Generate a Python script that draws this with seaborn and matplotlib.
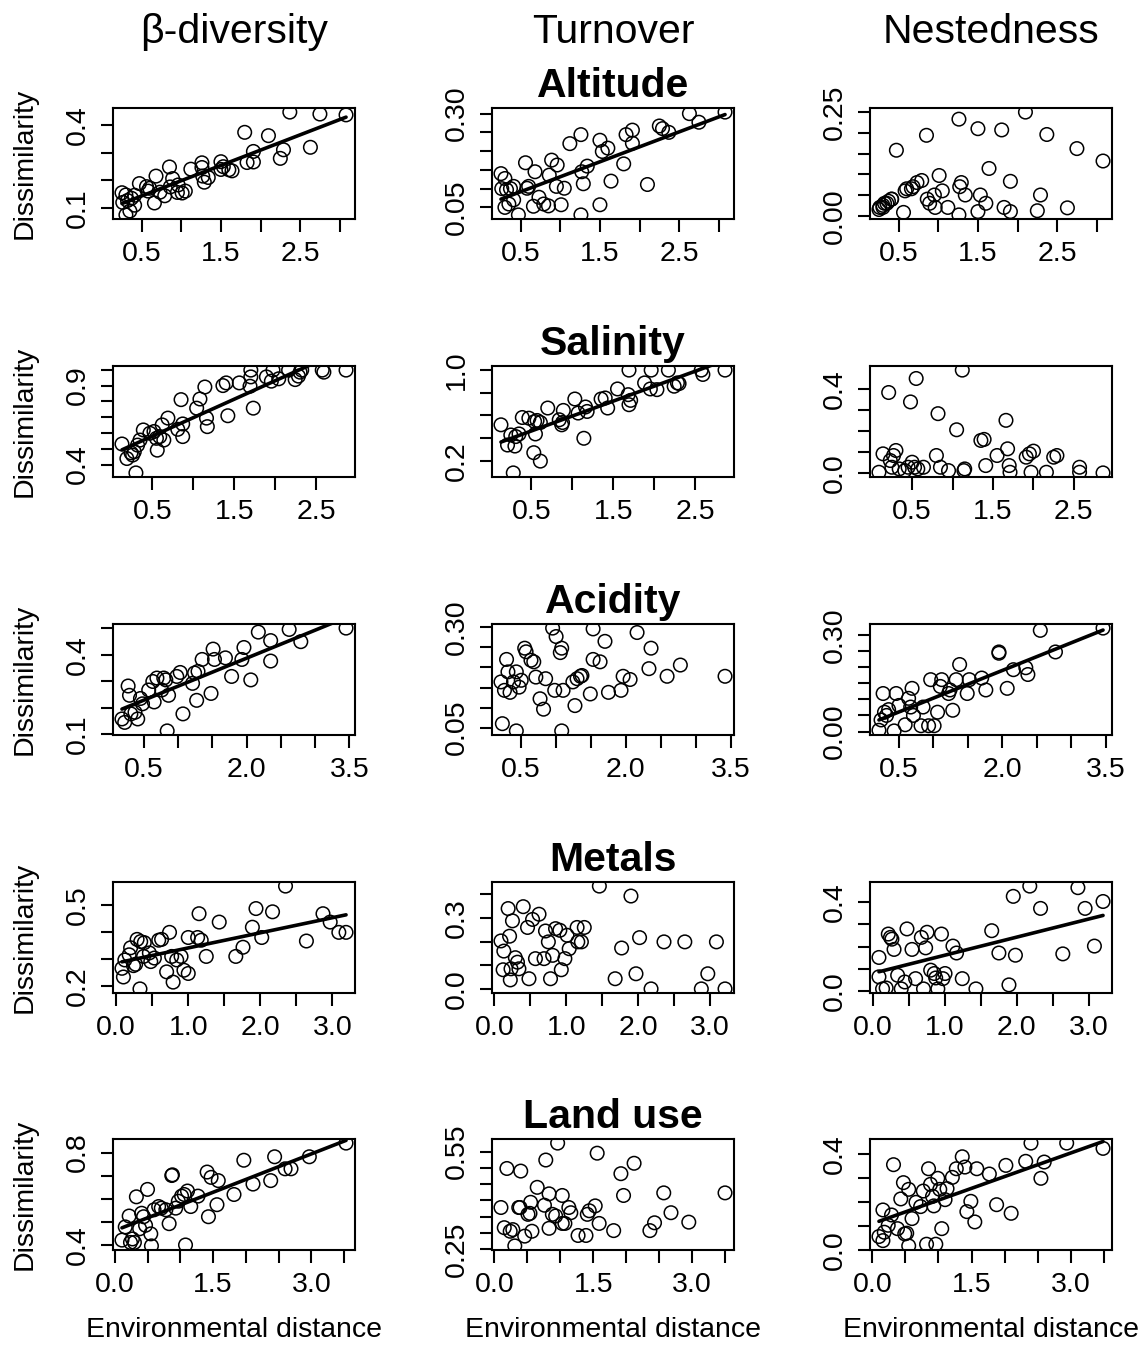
import matplotlib
matplotlib.use("Agg")
import matplotlib.pyplot as plt
import numpy as np
import seaborn as sns

# ---- Altitude (same distances for the three indices) ----
alt_x = [0.25, 0.30, 0.26, 0.32, 0.37, 0.41, 0.30, 0.35, 0.41, 0.47, 0.56, 0.58, 0.60, 0.68, 0.66, 0.73,
         0.79, 0.85, 0.86, 0.89, 0.96, 0.95, 1.05, 1.01, 1.12, 1.26, 1.27, 1.29, 1.34, 1.26, 1.50, 1.53,
         1.60, 1.50, 1.64, 1.80, 1.83, 1.91, 1.91, 2.10, 2.25, 2.29, 2.37, 2.63, 2.75, 3.08]
alt_beta = [0.155, 0.147, 0.120, 0.127, 0.135, 0.146, 0.075, 0.089, 0.110, 0.188, 0.177, 0.161, 0.171,
            0.215, 0.118, 0.157, 0.144, 0.248, 0.176, 0.206, 0.183, 0.156, 0.161, 0.154, 0.240, 0.246,
            0.215, 0.193, 0.210, 0.263, 0.239, 0.249, 0.238, 0.267, 0.234, 0.373, 0.264, 0.266, 0.304,
            0.361, 0.279, 0.310, 0.446, 0.319, 0.439, 0.436]
alt_turn = [0.140, 0.127, 0.100, 0.097, 0.100, 0.106, 0.050, 0.059, 0.070, 0.030, 0.169, 0.101, 0.106,
            0.145, 0.053, 0.077, 0.059, 0.054, 0.136, 0.176, 0.163, 0.106, 0.101, 0.057, 0.220, 0.244,
            0.145, 0.113, 0.160, 0.030, 0.229, 0.199, 0.208, 0.057, 0.120, 0.166, 0.244, 0.256, 0.221,
            0.111, 0.267, 0.260, 0.250, 0.300, 0.277, 0.304]
alt_nest = [0.015, 0.020, 0.020, 0.030, 0.035, 0.040, 0.025, 0.030, 0.040, 0.158, 0.008, 0.060, 0.065,
            0.070, 0.065, 0.080, 0.085, 0.194, 0.040, 0.030, 0.020, 0.050, 0.060, 0.097, 0.020, 0.002,
            0.070, 0.080, 0.050, 0.233, 0.010, 0.050, 0.030, 0.210, 0.114, 0.207, 0.020, 0.010, 0.083,
            0.250, 0.012, 0.050, 0.196, 0.019, 0.162, 0.132]

# ---- Salinity ----
sal_beta_x = [0.13, 0.19, 0.24, 0.26, 0.28, 0.30, 0.32, 0.35, 0.39, 0.47, 0.52, 0.55, 0.56, 0.59, 0.62,
              0.64, 0.69, 0.81, 0.85, 0.87, 0.87, 1.04, 1.08, 1.14, 1.16, 1.17, 1.36, 1.40, 1.42, 1.56,
              1.69, 1.70, 1.70, 1.73, 1.89, 1.95, 1.97, 2.04, 2.16, 2.24, 2.28, 2.30, 2.32, 2.57, 2.59, 2.86]
sal_beta = [0.530, 0.438, 0.474, 0.460, 0.481, 0.347, 0.523, 0.555, 0.619, 0.598, 0.609, 0.566, 0.491,
            0.577, 0.651, 0.555, 0.694, 0.623, 0.811, 0.577, 0.657, 0.757, 0.815, 0.891, 0.694, 0.640,
            0.900, 0.917, 0.709, 0.917, 0.896, 0.955, 0.998, 0.757, 0.955, 0.928, 0.998, 0.943, 0.998,
            0.938, 0.960, 0.985, 0.998, 0.998, 0.985, 0.998]
sal_turn_x = [0.13, 0.21, 0.25, 0.28, 0.31, 0.35, 0.30, 0.39, 0.47, 0.54, 0.57, 0.61, 0.55, 0.53, 0.61,
              0.70, 0.84, 0.87, 0.88, 0.89, 1.03, 1.07, 1.14, 1.16, 1.18, 1.35, 1.40, 1.43, 1.55, 1.68,
              1.69, 1.71, 1.69, 1.88, 1.96, 1.95, 2.03, 2.17, 2.24, 2.28, 2.30, 2.57, 2.59, 2.86]
sal_turn = [0.518, 0.341, 0.429, 0.097, 0.415, 0.438, 0.332, 0.582, 0.576, 0.547, 0.556, 0.538, 0.438,
            0.274, 0.200, 0.665, 0.562, 0.518, 0.538, 0.644, 0.744, 0.621, 0.400, 0.674, 0.635, 0.744,
            0.753, 0.665, 0.832, 0.782, 0.997, 0.732, 0.694, 0.885, 0.997, 0.832, 0.826, 0.997, 0.856,
            0.885, 0.879, 0.997, 0.959, 0.997]
sal_nest_x = [0.09, 0.14, 0.21, 0.23, 0.27, 0.30, 0.25, 0.34, 0.41, 0.45, 0.48, 0.50, 0.53, 0.55, 0.57,
              0.64, 0.80, 0.82, 0.85, 0.95, 1.05, 1.12, 1.14, 1.15, 1.35, 1.39, 1.41, 1.55, 1.66, 1.68,
              1.70, 1.71, 1.91, 1.95, 2.00, 1.97, 2.16, 2.25, 2.29, 2.57, 2.57, 2.86]
sal_nest = [0.003, 0.091, 0.384, 0.059, 0.083, 0.107, 0.027, 0.019, 0.011, 0.027, 0.339, 0.051, 0.027,
            0.451, 0.019, 0.027, 0.083, 0.283, 0.027, 0.011, 0.206, 0.491, 0.011, 0.019, 0.155, 0.160,
            0.035, 0.083, 0.251, 0.115, 0.035, 0.003, 0.075, 0.091, 0.104, 0.003, 0.003, 0.075, 0.083,
            0.027, 0.003, 0.000]

# ---- Acidity ----
acid_beta_x = [0.18, 0.22, 0.27, 0.29, 0.31, 0.37, 0.41, 0.45, 0.48, 0.57, 0.63, 0.65, 0.69, 0.76, 0.79,
               0.82, 0.86, 0.98, 1.03, 1.07, 1.21, 1.24, 1.29, 1.27, 1.35, 1.48, 1.51, 1.53, 1.78, 1.69,
               1.96, 1.93, 2.06, 2.17, 2.35, 2.35, 2.62, 2.79, 3.45, 0.84]
acid_beta = [0.158, 0.145, 0.282, 0.247, 0.177, 0.183, 0.158, 0.235, 0.215, 0.267, 0.299, 0.222, 0.312,
             0.267, 0.312, 0.305, 0.247, 0.318, 0.333, 0.177, 0.292, 0.331, 0.337, 0.228, 0.382, 0.254,
             0.421, 0.382, 0.318, 0.388, 0.427, 0.382, 0.305, 0.485, 0.376, 0.453, 0.495, 0.449, 0.500,
             0.113]
acid_turn_x = [0.21, 0.26, 0.29, 0.31, 0.34, 0.39, 0.43, 0.47, 0.50, 0.55, 0.57, 0.64, 0.68, 0.71, 0.77,
               0.82, 0.85, 0.95, 0.98, 1.00, 1.06, 1.08, 1.10, 1.24, 1.27, 1.30, 1.35, 1.37, 1.49, 1.53,
               1.53, 1.63, 1.70, 1.75, 1.93, 1.96, 2.06, 2.16, 2.33, 2.36, 2.59, 2.78, 3.42, 0.23, 0.43, 1.08]
acid_turn = [0.164, 0.143, 0.220, 0.189, 0.138, 0.164, 0.189, 0.151, 0.168, 0.248, 0.239, 0.218, 0.214,
             0.176, 0.122, 0.096, 0.172, 0.298, 0.143, 0.277, 0.237, 0.248, 0.143, 0.164, 0.105, 0.172,
             0.178, 0.180, 0.134, 0.220, 0.296, 0.214, 0.265, 0.138, 0.143, 0.178, 0.170, 0.287, 0.197,
             0.248, 0.178, 0.206, 0.178, 0.060, 0.042, 0.042]
acid_nest_x = [0.21, 0.27, 0.29, 0.32, 0.35, 0.43, 0.46, 0.50, 0.59, 0.64, 0.67, 0.69, 0.71, 0.82, 0.85,
               0.93, 0.96, 1.01, 1.06, 1.10, 1.12, 1.22, 1.24, 1.28, 1.33, 1.38, 1.49, 1.52, 1.70, 1.76,
               1.95, 1.95, 2.07, 2.16, 2.34, 2.37, 2.55, 2.77, 3.46, 0.24]
acid_nest = [0.004, 0.118, 0.060, 0.050, 0.068, 0.002, 0.118, 0.081, 0.021, 0.103, 0.076, 0.134, 0.050,
             0.018, 0.076, 0.018, 0.161, 0.018, 0.060, 0.140, 0.161, 0.118, 0.129, 0.066, 0.161, 0.208,
             0.118, 0.161, 0.166, 0.129, 0.243, 0.247, 0.134, 0.192, 0.198, 0.177, 0.314, 0.247, 0.321,
             0.036]

# ---- Metals ----
met_beta_x = [0.08, 0.10, 0.12, 0.18, 0.20, 0.24, 0.27, 0.29, 0.34, 0.38, 0.39, 0.46, 0.48, 0.53, 0.59,
              0.63, 0.70, 0.74, 0.77, 0.79, 0.84, 0.90, 0.94, 1.00, 1.00, 1.13, 1.15, 1.18, 1.25, 1.43,
              1.66, 1.76, 1.89, 1.94, 2.02, 2.17, 2.64, 2.87, 2.97, 3.09, 3.19, 0.33, 2.35]
met_beta = [0.266, 0.234, 0.297, 0.316, 0.342, 0.276, 0.281, 0.373, 0.365, 0.310, 0.361, 0.323, 0.291,
            0.304, 0.370, 0.373, 0.253, 0.399, 0.310, 0.215, 0.297, 0.310, 0.259, 0.247, 0.380, 0.380,
            0.468, 0.370, 0.310, 0.437, 0.310, 0.344, 0.418, 0.487, 0.380, 0.475, 0.367, 0.468, 0.437,
            0.399, 0.399, 0.190, 0.570]
met_turn_x = [0.09, 0.13, 0.12, 0.19, 0.21, 0.25, 0.22, 0.23, 0.29, 0.32, 0.34, 0.40, 0.46, 0.48, 0.53,
              0.62, 0.57, 0.69, 0.71, 0.75, 0.78, 0.81, 0.85, 0.91, 0.93, 0.98, 1.01, 1.04, 1.15, 1.16,
              1.21, 1.25, 1.46, 1.68, 1.77, 1.90, 1.97, 2.02, 2.18, 2.36, 2.65, 2.88, 2.97, 3.09, 3.21]
met_turn = [0.203, 0.160, 0.081, 0.340, 0.223, 0.288, 0.038, 0.085, 0.132, 0.113, 0.085, 0.348, 0.260,
            0.043, 0.294, 0.316, 0.128, 0.128, 0.245, 0.199, 0.043, 0.142, 0.255, 0.248, 0.081, 0.128,
            0.227, 0.170, 0.260, 0.199, 0.199, 0.260, 0.435, 0.043, 0.173, 0.393, 0.064, 0.217, 0.000,
            0.199, 0.199, 0.000, 0.064, 0.199, 0.000]
met_nest_x = [0.08, 0.08, 0.13, 0.18, 0.21, 0.24, 0.26, 0.29, 0.34, 0.39, 0.44, 0.47, 0.54, 0.59, 0.67,
              0.70, 0.73, 0.75, 0.80, 0.85, 0.87, 0.90, 0.95, 0.97, 1.00, 1.11, 1.16, 1.24, 1.43, 1.65,
              1.75, 1.89, 1.95, 1.98, 2.18, 2.33, 2.64, 2.85, 2.95, 3.08, 3.20]
met_nest = [0.065, 0.152, 0.011, 0.015, 0.257, 0.242, 0.234, 0.188, 0.072, 0.011, 0.042, 0.280, 0.188,
            0.057, 0.242, 0.011, 0.195, 0.265, 0.095, 0.080, 0.060, 0.011, 0.257, 0.057, 0.080, 0.203,
            0.172, 0.057, 0.011, 0.272, 0.172, 0.029, 0.426, 0.162, 0.472, 0.372, 0.168, 0.465, 0.372,
            0.203, 0.403]

# ---- Land use ----
land_beta_x = [0.11, 0.16, 0.22, 0.24, 0.27, 0.30, 0.33, 0.38, 0.41, 0.44, 0.47, 0.50, 0.55, 0.56, 0.60,
               0.67, 0.71, 0.78, 0.83, 0.87, 0.88, 0.93, 0.97, 1.02, 1.06, 1.11, 1.16, 1.08, 1.27, 1.41,
               1.43, 1.47, 1.56, 1.58, 1.82, 1.97, 2.11, 2.38, 2.44, 2.60, 2.69, 2.97, 3.53]
land_beta = [0.422, 0.479, 0.526, 0.412, 0.427, 0.412, 0.609, 0.471, 0.538, 0.523, 0.486, 0.641, 0.449,
             0.397, 0.553, 0.567, 0.560, 0.553, 0.493, 0.701, 0.704, 0.560, 0.590, 0.612, 0.619, 0.634,
             0.567, 0.401, 0.612, 0.716, 0.523, 0.693, 0.575, 0.679, 0.619, 0.767, 0.664, 0.679, 0.782,
             0.730, 0.730, 0.782, 0.841]
land_turn_x = [0.10, 0.15, 0.19, 0.24, 0.28, 0.31, 0.40, 0.37, 0.39, 0.46, 0.51, 0.54, 0.55, 0.57, 0.65,
               0.76, 0.78, 0.83, 0.83, 0.88, 0.93, 0.96, 1.03, 1.03, 1.07, 1.13, 1.16, 1.27, 1.39, 1.41,
               1.44, 1.53, 1.56, 1.59, 1.81, 1.92, 1.96, 2.12, 2.36, 2.43, 2.57, 2.68, 2.95, 3.50]
land_turn = [0.378, 0.316, 0.498, 0.305, 0.310, 0.260, 0.490, 0.378, 0.378, 0.290, 0.357, 0.360, 0.394,
             0.305, 0.440, 0.385, 0.524, 0.420, 0.314, 0.357, 0.352, 0.576, 0.415, 0.329, 0.329, 0.378,
             0.362, 0.292, 0.292, 0.357, 0.368, 0.383, 0.545, 0.329, 0.307, 0.482, 0.415, 0.514, 0.307,
             0.331, 0.423, 0.362, 0.333, 0.423]
land_nest_x = [0.10, 0.16, 0.16, 0.24, 0.29, 0.32, 0.38, 0.43, 0.47, 0.49, 0.52, 0.55, 0.55, 0.60, 0.66,
               0.73, 0.77, 0.82, 0.85, 0.88, 0.91, 0.93, 0.96, 0.99, 1.02, 1.05, 1.10, 1.13, 1.21, 1.27,
               1.36, 1.40, 1.43, 1.49, 1.55, 1.58, 1.77, 1.88, 2.02, 2.10, 2.32, 2.40, 2.55, 2.60, 2.94,
               3.49, 0.18]
land_nest = [0.056, 0.039, 0.167, 0.103, 0.146, 0.356, 0.089, 0.213, 0.281, 0.067, 0.070, 0.253, 0.017,
             0.131, 0.199, 0.181, 0.246, 0.024, 0.339, 0.274, 0.224, 0.184, 0.024, 0.299, 0.253, 0.089,
             0.210, 0.256, 0.303, 0.339, 0.389, 0.346, 0.160, 0.203, 0.117, 0.339, 0.317, 0.189, 0.353,
             0.153, 0.370, 0.446, 0.299, 0.367, 0.446, 0.424, 0.074]

col_names = ["\u03b2-diversity", "Turnover", "Nestedness"]
row_names = ["Altitude", "Salinity", "Acidity", "Metals", "Land use"]

# axis ticks; empty strings are the labels R dropped for overlap
x_ticks = [[0.5, 1.0, 1.5, 2.0, 2.5, 3.0],
           [0.5, 1.0, 1.5, 2.0, 2.5],
           [0.5, 1.0, 1.5, 2.0, 2.5, 3.0, 3.5],
           [0.0, 0.5, 1.0, 1.5, 2.0, 2.5, 3.0],
           [0.0, 0.5, 1.0, 1.5, 2.0, 2.5, 3.0, 3.5]]
x_labels = [["0.5", "", "1.5", "", "2.5", ""],
            ["0.5", "", "1.5", "", "2.5"],
            ["0.5", "", "", "2.0", "", "", "3.5"],
            ["0.0", "", "1.0", "", "2.0", "", "3.0"],
            ["0.0", "", "", "1.5", "", "", "3.0", ""]]

y_ticks = [
    [[0.1, 0.2, 0.3, 0.4], [0.05, 0.10, 0.15, 0.20, 0.25, 0.30], [0.0, 0.05, 0.10, 0.15, 0.20, 0.25]],
    [[0.4, 0.5, 0.6, 0.7, 0.8, 0.9, 1.0], [0.2, 0.4, 0.6, 0.8, 1.0], [0.0, 0.1, 0.2, 0.3, 0.4]],
    [[0.1, 0.2, 0.3, 0.4, 0.5], [0.05, 0.10, 0.15, 0.20, 0.25, 0.30], [0.0, 0.05, 0.10, 0.15, 0.20, 0.25, 0.30]],
    [[0.2, 0.3, 0.4, 0.5], [0.0, 0.1, 0.2, 0.3, 0.4], [0.0, 0.1, 0.2, 0.3, 0.4]],
    [[0.4, 0.5, 0.6, 0.7, 0.8], [0.25, 0.30, 0.35, 0.40, 0.45, 0.50, 0.55], [0.0, 0.1, 0.2, 0.3, 0.4]],
]
y_labels = [
    [["0.1", "", "", "0.4"], ["0.05", "", "", "", "", "0.30"], ["0.00", "", "", "", "", "0.25"]],
    [["0.4", "", "", "", "", "0.9", ""], ["0.2", "", "", "", "1.0"], ["0.0", "", "", "", "0.4"]],
    [["0.1", "", "", "0.4", ""], ["0.05", "", "", "", "", "0.30"], ["0.00", "", "", "", "", "", "0.30"]],
    [["0.2", "", "", "0.5"], ["0.0", "", "", "0.3", ""], ["0.0", "", "", "", "0.4"]],
    [["0.4", "", "", "", "0.8"], ["0.25", "", "", "", "", "", "0.55"], ["0.0", "", "", "", "0.4"]],
]

panels = [
    [(alt_x, alt_beta, True), (alt_x, alt_turn, True), (alt_x, alt_nest, False)],
    [(sal_beta_x, sal_beta, True), (sal_turn_x, sal_turn, True), (sal_nest_x, sal_nest, False)],
    [(acid_beta_x, acid_beta, True), (acid_turn_x, acid_turn, False), (acid_nest_x, acid_nest, True)],
    [(met_beta_x, met_beta, True), (met_turn_x, met_turn, False), (met_nest_x, met_nest, True)],
    [(land_beta_x, land_beta, True), (land_turn_x, land_turn, False), (land_nest_x, land_nest, True)],
]


def r_lim(v):
    # R-style axis range: data range plus 4% each side
    lo, hi = min(v), max(v)
    d = (hi - lo) * 0.04
    return lo - d, hi + d


sns.set_style("ticks")
plt.rcParams["font.family"] = ["Liberation Sans", "DejaVu Sans"]
plt.rcParams["axes.edgecolor"] = "black"
plt.rcParams["xtick.color"] = "black"
plt.rcParams["ytick.color"] = "black"
plt.rcParams["text.color"] = "black"

W, H = 1144, 1351
fig = plt.figure(figsize=(W / 100, H / 100), dpi=100)

col_left = [113, 492, 870]
row_top = [108, 366, 624, 882, 1139]
box_w, box_h = 242, 111

for r in range(5):
    for c in range(3):
        x, y, fit = panels[r][c]
        ax = fig.add_axes([col_left[c] / W, 1 - (row_top[r] + box_h) / H, box_w / W, box_h / H])
        sns.regplot(x=np.array(x), y=np.array(y), ax=ax, fit_reg=fit, ci=None, color="black",
                    scatter_kws=dict(s=95, facecolors="none", edgecolors="black",
                                     linewidths=1.1, alpha=1),
                    line_kws=dict(lw=2.6))
        ax.set_xlabel("")
        ax.set_ylabel("")
        ax.set_xlim(r_lim(x))
        ax.set_ylim(r_lim(y))
        ax.set_xticks(x_ticks[r], x_labels[r])
        ax.set_yticks(y_ticks[r][c], y_labels[r][c])
        ax.tick_params(direction="out", length=9, width=1.5, labelsize=20.5, pad=7)
        ax.tick_params(axis="y", labelrotation=90)
        for t in ax.get_yticklabels():
            t.set_verticalalignment("center")
        for s in ax.spines.values():
            s.set_visible(True)
            s.set_linewidth(1.5)
        if c == 1:
            ax.set_title(row_names[r], fontsize=29.5, fontweight="bold", pad=8)
    fig.text(25 / W, 1 - (row_top[r] + box_h / 2) / H, "Dissimilarity", rotation=90,
             ha="center", va="center", fontsize=20.5)

for c in range(3):
    cx = (col_left[c] + box_w / 2) / W
    fig.text(cx, 1 - 43 / H, col_names[c], ha="center", va="baseline", fontsize=29.5)
    fig.text(cx, 1 - 1337 / H, "Environmental distance", ha="center", va="baseline", fontsize=20.5)

fig.savefig("out.png", dpi=100)
